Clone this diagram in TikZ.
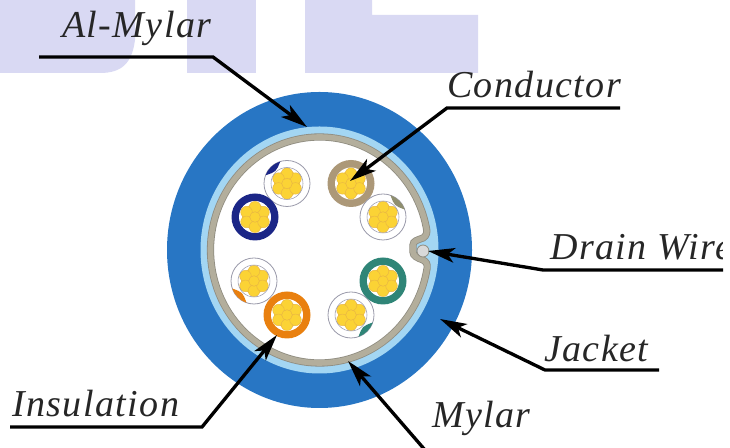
\documentclass[tikz,border=0pt]{standalone}
\usepackage{fontspec}
\setmainfont{Liberation Serif}[LetterSpace=3.7]
\usetikzlibrary{arrows.meta}
\definecolor{wm}{HTML}{D9D9F3}
\definecolor{jacketblue}{HTML}{2876C4}
\definecolor{mylarblue}{HTML}{A3D6F3}
\definecolor{foilgrey}{HTML}{B3AE9C}
\definecolor{foildark}{HTML}{8F8C80}
\definecolor{strandy}{HTML}{FBD335}
\definecolor{stranded}{HTML}{E8B545}
\definecolor{wbrown}{HTML}{AC9878}
\definecolor{wnavy}{HTML}{1B2687}
\definecolor{worange}{HTML}{E9800F}
\definecolor{wgreen}{HTML}{2F8577}
\definecolor{wstripe}{HTML}{8F8F6F}
\definecolor{ringline}{HTML}{9A9AAA}
\newcommand{\conductorcore}{%
  \fill[white] (0,0) circle[radius=16];
  \fill[strandy] (0,0) circle[radius=13];
  \foreach \a in {30,90,150,210,270,330}{\draw[strandstyle] (\a:9.8) circle[radius=5.8];}
  \draw[strandstyle] (0,0) circle[radius=5.3];
}
\newcommand{\colorwire}[3]{%
  \begin{scope}[shift={(#1,#2)}]
    \fill[#3] (0,0) circle[radius=23.5];
    \conductorcore
  \end{scope}}
\newcommand{\stripewire}[4]{%
  \begin{scope}[shift={(#1,#2)}]
    \draw[ringline,fill=white,line width=0.6pt] (0,0) circle[radius=23];
    \conductorcore
    \draw[ringline,line width=0.4pt] (0,0) circle[radius=16];
    \pgfmathsetmacro{\sa}{#3-26}\pgfmathsetmacro{\sb}{#3+26}
    \fill[#4] (\sa:23) arc[start angle=\sa,end angle=\sb,radius=23] .. controls (#3:16) .. cycle;
  \end{scope}}
\tikzset{
  strandstyle/.style={fill=strandy,draw=stranded,line width=0.35pt},
  leader/.style={draw=black,line width=2.5pt,line join=miter},
  leaderarrow/.style={leader,-{Stealth[length=20pt,width=11pt,inset=5pt]}},
  lab/.style={anchor=base west,inner sep=0pt,text=black!85,font=\itshape\fontsize{28.5}{30}\selectfont},
}
\begin{document}
\begin{tikzpicture}[x=0.75pt,y=0.75pt]
\useasboundingbox (0,0) rectangle (730,448);
% watermark
\fill[wm] (0,448) -- (135,448) -- (135,408) .. controls (132,385) and (122,375) .. (100,375) -- (0,375) -- cycle;
\fill[wm] (187,448) rectangle (256,375);
\fill[wm] (305,448) -- (372,448) -- (372,433) -- (478,433) -- (478,375) -- (305,375) -- cycle;
% cable
\begin{scope}[shift={(319.5,198)}]
  \fill[jacketblue] (0,0) ellipse[x radius=152.5,y radius=158];
  \fill[mylarblue] (0,0) ellipse[x radius=119,y radius=123.5];
  \def\foilpath{(11.2:109 and 113) arc[start angle=11.2,end angle=350.8,x radius=109,y radius=113]
     .. controls (108,-14) and (107,-12) .. (103.5,-10)
     .. controls (98,-8) and (93.5,-6) .. (93.5,-2)
     -- (93.5,5)
     .. controls (93.5,9) and (98,10) .. (103.5,12)
     .. controls (107,14) and (108,18) .. cycle}
  \draw[foildark,line width=5.4pt,fill=white] \foilpath;
  \draw[foilgrey,line width=4.2pt] \foilpath;
  \draw[foildark,fill=black!15,line width=0.6pt] (103.5,-1) circle[radius=6];
\end{scope}
% wires
\stripewire{287}{264.5}{133}{wnavy}
\colorwire{351}{264.5}{wbrown}
\stripewire{383}{231}{45}{wstripe}
\colorwire{255}{231}{wnavy}
\stripewire{254}{167}{225}{worange}
\colorwire{287}{133}{worange}
\stripewire{351}{133}{-45}{wgreen}
\colorwire{383}{167}{wgreen}
% labels
\node[lab] (almylar) at (62,410) {Al-Mylar};
\node[lab] (conductor) at (447,350) {Conductor};
\begin{scope}
  \clip (0,0) rectangle (722,448);
  \node[lab] (drain) at (550,188) {Drain Wire};
\end{scope}
\node[lab] (jacket) at (544,86) {Jacket};
\node[lab] (mylar) at (432,20) {Mylar};
\node[lab] (insulation) at (12,31) {Insulation};
% leaders
\coordinate (a0) at (39,391); \coordinate (a1) at (213,391); \coordinate (a2) at (307,321);
\coordinate (c0) at (620,340); \coordinate (c1) at (447,340); \coordinate (c2) at (350,267);
\coordinate (d0) at (723,178); \coordinate (d1) at (543,178); \coordinate (d2) at (428,197);
\coordinate (j0) at (659,78); \coordinate (j1) at (545,78); \coordinate (j2) at (440,129);
\coordinate (m0) at (425,-2); \coordinate (m2) at (348,87);
\coordinate (i0) at (10,21); \coordinate (i1) at (202,21); \coordinate (i2) at (277,113);
\draw[leaderarrow] (a0) -- (a1) -- (a2);
\draw[leaderarrow] (c0) -- (c1) -- (c2);
\draw[leaderarrow] (d0) -- (d1) -- (d2);
\draw[leaderarrow] (j0) -- (j1) -- (j2);
\draw[leaderarrow] (m0) -- (m2);
\draw[leaderarrow] (i0) -- (i1) -- (i2);
\end{tikzpicture}
\end{document}
